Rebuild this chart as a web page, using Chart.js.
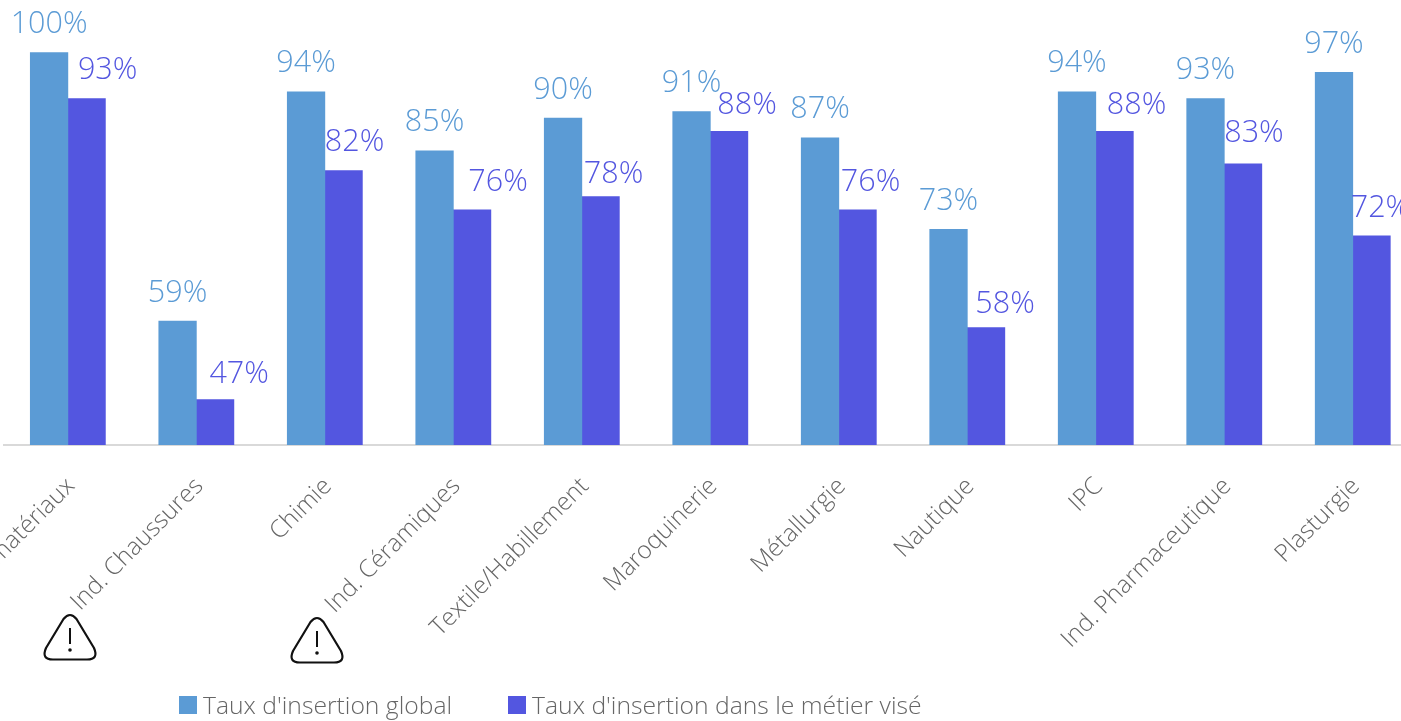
<!DOCTYPE html>
<html lang="fr"><head><meta charset="utf-8">
<style>
html,body{margin:0;padding:0;background:#fff;width:1401px;height:721px;overflow:hidden}
#wrap{position:relative;width:1401px;height:721px;overflow:hidden}
canvas{position:absolute;left:0;top:0}
#legend{position:absolute;left:179px;top:688px;height:34px;display:flex;font:300 24.7px "Open Sans",sans-serif;color:#666;white-space:nowrap;line-height:34px}
#legend span.i{display:flex;align-items:center;margin-right:56px}
#legend i{display:inline-block;width:18px;height:18px;margin-right:6px}
svg{position:absolute}
</style>
<script src="https://cdn.jsdelivr.net/npm/chart.js@4/dist/chart.umd.js"></script>
</head><body><div id="wrap">
<canvas id="c" width="1417" height="721"></canvas>
<div id="legend"></div>
<svg style="left:40px;top:611px" width="60" height="52" viewBox="0 0 60 52"><path d="M23.5 8 Q30 0 36.5 8 L54 37 Q59 48.5 47 48.5 L13 48.5 Q1 48.5 6 37 Z" fill="none" stroke="#111" stroke-width="2.2" stroke-linejoin="round"/><path d="M30 17V33" stroke="#111" stroke-width="2"/><circle cx="30" cy="39" r="1.8" fill="#111"/></svg>
<svg style="left:287px;top:614px" width="60" height="52" viewBox="0 0 60 52"><path d="M23.5 8 Q30 0 36.5 8 L54 37 Q59 48.5 47 48.5 L13 48.5 Q1 48.5 6 37 Z" fill="none" stroke="#111" stroke-width="2.2" stroke-linejoin="round"/><path d="M30 17V33" stroke="#111" stroke-width="2"/><circle cx="30" cy="39" r="1.8" fill="#111"/></svg>
</div>
<script>
const categories = ["matériaux","Ind. Chaussures","Chimie","Ind. Céramiques","Textile/Habillement","Maroquinerie","Métallurgie","Nautique","IPC","Ind. Pharmaceutique","Plasturgie"];
const seriesNames = ["Taux d'insertion global","Taux d'insertion dans le métier visé"];
const globalRate = [100,59,94,85,90,91,87,73,94,93,97];
const targetRate = [93,47,82,76,78,88,76,58,88,83,72];
const seriesColors = ["#5b9bd5","#5356e0"];
const labelShift = [[0,0,0,0,0,0,0,0,0,0,0],[21,24,11,26,13,18,13,19,22,11,9]];
const labelLift = [[0,1,0,0,1,0,0,0,0,0,0],[0,3,0,1,6,2,1,5,2,-2,1]];

const valueLabels = {
  id:'valueLabels',
  afterDatasetsDraw(chart){
    const ctx = chart.ctx;
    ctx.save();
    ctx.font = '300 30.5px "Open Sans",sans-serif';
    ctx.textAlign='center'; ctx.textBaseline='middle';
    chart.data.datasets.forEach((ds,i)=>{
      ctx.fillStyle = ds.backgroundColor;
      chart.getDatasetMeta(i).data.forEach((el,j)=>{
        ctx.fillText(ds.data[j]+'%', el.x+labelShift[i][j], el.y-28+labelLift[i][j]);
      });
    });
    ctx.restore();
  }
};
const chart = new Chart(document.getElementById('c'),{
  type:'bar',
  data:{labels:categories,datasets:[
    {label:seriesNames[0],data:globalRate,backgroundColor:seriesColors[0]},
    {label:seriesNames[1],data:targetRate,backgroundColor:seriesColors[1]}
  ]},
  options:{
    responsive:false,animation:false,
    layout:{padding:{left:3.6,right:0,top:0,bottom:0}},
    categoryPercentage:0.584,barPercentage:1.02,
    plugins:{legend:{display:false},tooltip:{enabled:false}},
    scales:{
      x:{
        grid:{display:false},
        border:{display:true,color:'#d9d9d9',width:2},
        ticks:{autoSkip:false,maxRotation:45,minRotation:45,padding:19,labelOffset:3,color:'#666',font:{family:'"Open Sans",sans-serif',size:24.4,weight:'300'}},
        afterFit(s){s.paddingLeft=0;s.paddingRight=0;s.height=276;}
      },
      y:{display:false,min:40,max:108}
    }
  },
  plugins:[valueLabels]
});
const lg=document.getElementById('legend');
seriesNames.forEach((n,i)=>{const s=document.createElement('span');s.className='i';const b=document.createElement('i');b.style.background=seriesColors[i];s.appendChild(b);s.appendChild(document.createTextNode(n));lg.appendChild(s);});
</script></body></html>
